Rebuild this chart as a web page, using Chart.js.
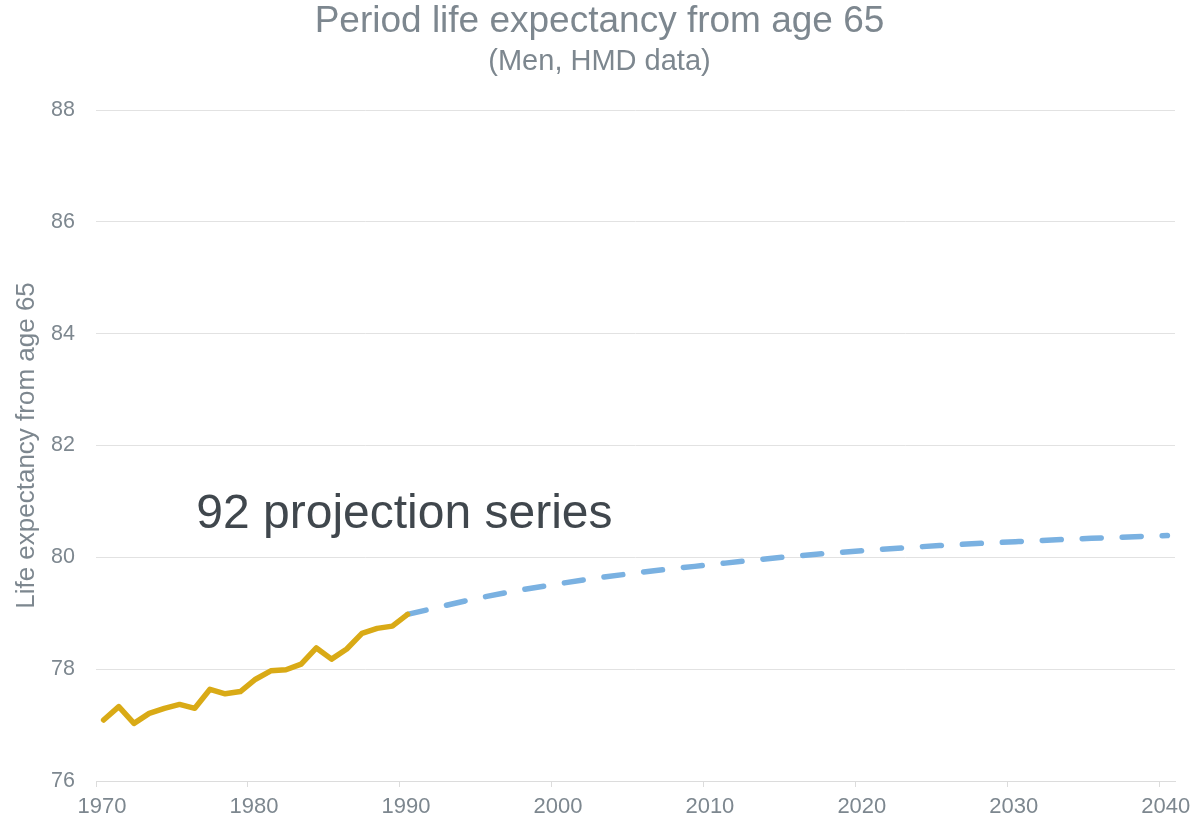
<!DOCTYPE html>
<html>
<head>
<meta charset="utf-8">
<script src="https://cdn.jsdelivr.net/npm/chart.js@4.4.0/dist/chart.umd.min.js"></script>
<style>
  html, body { margin: 0; padding: 0; background: #fff; }
  #wrap { width: 1199px; height: 822px; }
</style>
</head>
<body>
<div id="wrap"><canvas id="chart" width="1199" height="822"></canvas></div>
<script>
// observed data (HMD, men)
var histYears = [1970, 1971, 1972, 1973, 1974, 1975, 1976, 1977, 1978, 1979, 1980,
                 1981, 1982, 1983, 1984, 1985, 1986, 1987, 1988, 1989, 1990];
var histValues = [77.09, 77.33, 77.03, 77.21, 77.30, 77.37, 77.30, 77.64, 77.56, 77.60, 77.82,
                  77.97, 77.99, 78.09, 78.38, 78.18, 78.36, 78.64, 78.73, 78.77, 78.98];
// projection
var projYears = [1990, 1995, 2000, 2005, 2010, 2015, 2020, 2025, 2030, 2035, 2040];
var projValues = [78.98, 79.29, 79.53, 79.72, 79.87, 80.01, 80.12, 80.21, 80.28, 80.34, 80.39];
var yTicks = [76, 78, 80, 82, 84, 86, 88];
var xTickLabels = [1970, 1980, 1990, 2000, 2010, 2020, 2030, 2040];

var grey = '#7d878f';
var fam = '"Liberation Sans", Arial, sans-serif';

function toPoints(xs, ys) {
  return xs.map(function(x, i) { return { x: x, y: ys[i] }; });
}

var annotation = {
  id: 'annotation',
  afterDatasetsDraw: function(chart) {
    var ctx = chart.ctx;
    var xs = chart.scales.x, ys = chart.scales.y;
    ctx.save();
    ctx.font = '48px ' + fam;
    ctx.fillStyle = '#40474d';
    ctx.textAlign = 'left';
    ctx.textBaseline = 'alphabetic';
    ctx.fillText('92 projection series', xs.getPixelForValue(1976.1), ys.getPixelForValue(80.52));
    ctx.restore();
  }
};

var config = {
  type: 'line',
  data: {
    datasets: [{
      data: toPoints(histYears, histValues),
      borderColor: '#d9aa16',
      borderWidth: 5.5,
      pointRadius: 0,
      tension: 0,
      borderJoinStyle: 'round',
      borderCapStyle: 'round'
    }, {
      data: toPoints(projYears, projValues),
      borderColor: '#7ab1e1',
      borderWidth: 5.5,
      borderDash: [19, 21],
      borderCapStyle: 'round',
      pointRadius: 0,
      cubicInterpolationMode: 'monotone'
    }]
  },
  options: {
    responsive: false,
    animation: false,
    layout: { padding: { left: 24, right: 24, top: 0, bottom: 0 } },
    plugins: {
      legend: { display: false },
      tooltip: { enabled: false },
      title: {
        display: true,
        text: 'Period life expectancy from age 65',
        color: grey,
        font: { family: fam, size: 37, weight: 'normal' },
        padding: { top: 0, bottom: 0.2 }
      },
      subtitle: {
        display: true,
        text: '(Men, HMD data)',
        color: grey,
        font: { family: fam, size: 29, weight: 'normal' },
        padding: { top: 0, bottom: 30.6 }
      }
    },
    scales: {
      x: {
        type: 'linear',
        min: 1969.5,
        max: 2040.5,
        afterBuildTicks: function(scale) {
          // tick marks sit on the year boundary, labels mid-year
          scale.ticks = xTickLabels.map(function(v) { return { value: v - 0.5 }; });
        },
        afterFit: function(scale) { scale.height = 41; },
        ticks: {
          color: grey,
          font: { family: fam, size: 22 },
          padding: 7,
          labelOffset: 6,
          maxRotation: 0,
          callback: function(v) { return String(Math.round(v + 0.5)); }
        },
        grid: {
          drawOnChartArea: false,
          drawTicks: true,
          tickLength: 6,
          color: '#dcdcdc'
        },
        border: { color: '#dcdcdc', width: 1 }
      },
      y: {
        min: 76,
        max: 88,
        afterBuildTicks: function(scale) {
          scale.ticks = yTicks.map(function(v) { return { value: v }; });
        },
        afterFit: function(scale) { scale.width = 72; },
        ticks: {
          color: grey,
          font: { family: fam, size: 21.5 },
          padding: 21
        },
        grid: { color: '#e2e2e2', drawTicks: false },
        border: { display: false },
        title: {
          display: true,
          text: 'Life expectancy from age 65',
          color: grey,
          font: { family: fam, size: 26 },
          padding: { top: -12.6, bottom: 0 }
        }
      }
    }
  },
  plugins: [annotation]
};

window.onload = function() {
  var ctx = document.getElementById('chart').getContext('2d');
  window.myChart = new Chart(ctx, config);
};
</script>
</body>
</html>
